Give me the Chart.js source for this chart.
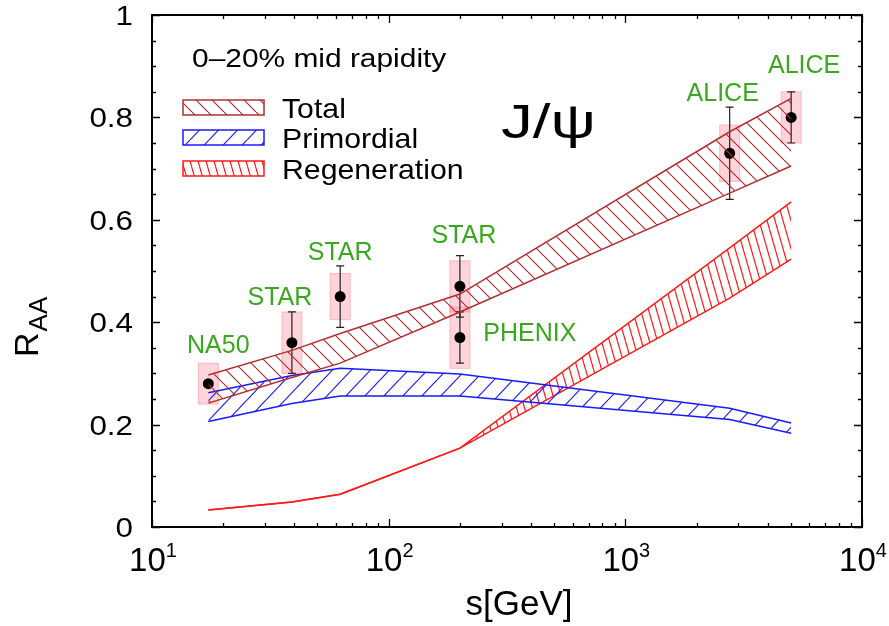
<!DOCTYPE html>
<html>
<head>
<meta charset="utf-8">
<script src="https://cdn.jsdelivr.net/npm/chart.js@4.4.0/dist/chart.umd.min.js"></script>
<style>
  html, body { margin:0; padding:0; background:#fff; }
  #wrap { width:889px; height:626px; }
</style>
</head>
<body>
<div id="wrap"><canvas id="raa" width="889" height="626"></canvas></div>
<script>
// ---- data ----
var totalE  = [17.3, 39, 62.4, 200, 2760, 5020];
var totalHi = [0.297, 0.345, 0.378, 0.455, 0.772, 0.837];
var totalLo = [0.242, 0.292, 0.320, 0.420, 0.652, 0.705];

var primE  = [17.3, 39, 62.4, 200, 2760, 5020];
var primHi = [0.262, 0.296, 0.310, 0.299, 0.232, 0.203];
var primLo = [0.206, 0.241, 0.256, 0.256, 0.210, 0.183];

var regenE  = [17.3, 39, 62.4, 200, 2760, 5020];
var regenHi = [0.033, 0.049, 0.064, 0.154, 0.545, 0.635];
var regenLo = [0.033, 0.049, 0.064, 0.154, 0.447, 0.523];

var expName = ['NA50', 'STAR', 'STAR', 'STAR', 'PHENIX', 'ALICE', 'ALICE'];
var expE    = [17.3, 39, 62.4, 200, 200, 2760, 5020];
var expR    = [0.28, 0.36, 0.45, 0.47, 0.37, 0.73, 0.80];
var errLo   = [null, 0.30, 0.39, 0.41, 0.32, 0.64, 0.75];
var errHi   = [null, 0.42, 0.51, 0.53, 0.42, 0.82, 0.85];
var sysLo   = [0.24, 0.30, 0.405, 0.42, 0.31, 0.675, 0.75];
var sysHi   = [0.32, 0.42, 0.495, 0.52, 0.43, 0.785, 0.85];

var yTicks = [0, 0.2, 0.4, 0.6, 0.8, 1];
var yTickLabels = ['0', '0.2', '0.4', '0.6', '0.8', '1'];
var xTicks = [10, 100, 1000, 10000];
var xTickExp = ['1', '2', '3', '4'];

// label placement (pixels from the point: centre x, baseline y)
var labelOffset = [[10,-31], [-12,-38], [0,-37], [4,-43], [70,3], [-7,-52], [13,-44]];

var BROWN = '#b03030', BLUE = '#1a1aff', RED = '#ff1a1a', GREEN = '#3aa81e';
var FONT = '"Liberation Sans", Arial, Helvetica, sans-serif';

function hatch(color, w, h, back){
  var c = document.createElement('canvas'); c.width = w; c.height = h;
  var g = c.getContext('2d'); g.strokeStyle = color; g.lineWidth = 1.2;
  for (var k = -1; k <= 1; k++){
    g.beginPath();
    if (back){ g.moveTo(k*w, 0); g.lineTo(k*w + w, h); }
    else { g.moveTo(k*w, h); g.lineTo(k*w + w, 0); }
    g.stroke();
  }
  return g.createPattern(c, 'repeat');
}
var patTotal = hatch(BROWN, 16, 16, true);
var patPrim  = hatch(BLUE, 19, 20, false);
var patRegen = hatch(RED, 8, 28, true);

function pts(xs, ys){ return xs.map(function(x, i){ return {x:x, y:ys[i]}; }); }
function band(label, col, pat, xs, hi, lo){
  return [
    {label:label, data:pts(xs, hi), borderColor:col, borderWidth:1.5, pointRadius:0, fill:false, tension:0},
    {label:label+' lo', data:pts(xs, lo), borderColor:col, borderWidth:1.5, pointRadius:0, fill:'-1', backgroundColor:pat, tension:0}
  ];
}

function put(ctx, s, x, y, size, color, align, sx){
  ctx.save();
  ctx.font = size + 'px ' + FONT; ctx.fillStyle = color;
  ctx.textAlign = align || 'left'; ctx.textBaseline = 'alphabetic';
  ctx.translate(x, y); ctx.scale(sx || 1, 1); ctx.fillText(s, 0, 0);
  ctx.restore();
}

var decor = {
  id: 'decor',
  beforeDatasetDraw: function(chart, args){
    if (args.index !== 6) return;
    var ctx = chart.ctx, xs = chart.scales.x, ys = chart.scales.y;
    ctx.save();
    expE.forEach(function(e, i){
      var x = xs.getPixelForValue(e), t = ys.getPixelForValue(sysHi[i]), b = ys.getPixelForValue(sysLo[i]);
      ctx.fillStyle = 'rgba(255,120,140,0.32)'; ctx.fillRect(x-10, t, 20, b-t);
      ctx.strokeStyle = 'rgba(255,120,140,0.45)'; ctx.lineWidth = 1; ctx.strokeRect(x-10, t, 20, b-t);
    });
    ctx.strokeStyle = '#222'; ctx.lineWidth = 1.2;
    expE.forEach(function(e, i){
      if (errLo[i] == null) return;
      var x = xs.getPixelForValue(e), t = ys.getPixelForValue(errHi[i]), b = ys.getPixelForValue(errLo[i]);
      ctx.beginPath();
      ctx.moveTo(x, t); ctx.lineTo(x, b);
      ctx.moveTo(x-4, t); ctx.lineTo(x+4, t);
      ctx.moveTo(x-4, b); ctx.lineTo(x+4, b);
      ctx.stroke();
    });
    ctx.restore();
  },
  afterDraw: function(chart){
    var ctx = chart.ctx, a = chart.chartArea, xs = chart.scales.x, ys = chart.scales.y;
    ctx.save();
    // ticks (inward, all four sides)
    ctx.strokeStyle = '#000'; ctx.lineWidth = 1.3;
    ctx.beginPath();
    for (var v = 0; v <= 1.0001; v += 0.05){
      var y = Math.round(ys.getPixelForValue(v)) + 0.5;
      var major = Math.abs(v*5 - Math.round(v*5)) < 1e-6;
      var L = major ? 8 : 4;
      ctx.moveTo(a.left, y); ctx.lineTo(a.left + L, y);
      ctx.moveTo(a.right, y); ctx.lineTo(a.right - L, y);
    }
    for (var d = 10; d < 10000; d *= 10){
      for (var m = 1; m <= 10; m++){
        var x = Math.round(xs.getPixelForValue(d*m)) + 0.5;
        var Lx = (m === 1 || m === 10) ? 8 : 4;
        ctx.moveTo(x, a.bottom); ctx.lineTo(x, a.bottom - Lx);
        ctx.moveTo(x, a.top); ctx.lineTo(x, a.top + Lx);
      }
    }
    ctx.stroke();
    // frame
    ctx.lineWidth = 2;
    ctx.strokeRect(a.left, a.top, a.right - a.left, a.bottom - a.top);

    // tick labels
    yTicks.forEach(function(v, i){
      put(ctx, yTickLabels[i], 133, ys.getPixelForValue(v) + 10, 28, '#000', 'right', 1.12);
    });
    xTicks.forEach(function(v, i){
      var x = xs.getPixelForValue(v);
      ctx.font = '33px ' + FONT; var w1 = ctx.measureText('10').width;
      ctx.font = '20px ' + FONT; var w2 = ctx.measureText(xTickExp[i]).width;
      var s = x - (w1 + w2)/2 + 1;
      put(ctx, '10', s, 571, 33, '#000', 'left');
      put(ctx, xTickExp[i], s + w1, 557, 20, '#000', 'left');
    });

    // axis titles
    put(ctx, 's[GeV]', 519, 615, 35, '#000', 'center');
    ctx.save();
    ctx.translate(38, 357); ctx.rotate(-Math.PI/2);
    ctx.fillStyle = '#000'; ctx.textBaseline = 'alphabetic';
    ctx.font = '34px ' + FONT; ctx.fillText('R', 0, 0);
    var wr = ctx.measureText('R').width;
    ctx.font = '26px ' + FONT; ctx.fillText('AA', wr + 1, 9);
    ctx.restore();

    // legend
    put(ctx, '0\u201320% mid rapidity', 192, 67, 26, '#000', 'left', 1.15);
    var leg = [['Total', BROWN, patTotal, 100, 117.5], ['Primordial', BLUE, patPrim, 130, 148], ['Regeneration', RED, patRegen, 161, 178.5]];
    leg.forEach(function(l){
      ctx.fillStyle = l[2]; ctx.fillRect(183, l[3], 81, 15);
      ctx.strokeStyle = l[1]; ctx.lineWidth = 1.5; ctx.strokeRect(183, l[3], 81, 15);
      put(ctx, l[0], 282, l[4], 28, '#000', 'left', 1.08);
    });
    put(ctx, 'J/\u03c8', 501, 138, 49, '#000', 'left', 1.3);

    // experiment labels
    expName.forEach(function(n, i){
      var x = xs.getPixelForValue(expE[i]) + labelOffset[i][0];
      var y = ys.getPixelForValue(expR[i]) + labelOffset[i][1];
      put(ctx, n, x, y, 25, GREEN, 'center');
    });
    ctx.restore();
  }
};

var datasets = []
  .concat(band('Total', BROWN, patTotal, totalE, totalHi, totalLo))
  .concat(band('Primordial', BLUE, patPrim, primE, primHi, primLo))
  .concat(band('Regeneration', RED, patRegen, regenE, regenHi, regenLo));
datasets.push({label:'data', data:pts(expE, expR), showLine:false, pointRadius:5.5,
  pointBackgroundColor:'#000', pointBorderColor:'#000', pointBorderWidth:0, fill:false});

new Chart(document.getElementById('raa').getContext('2d'), {
  type: 'line',
  data: { datasets: datasets },
  options: {
    responsive: false, animation: false, devicePixelRatio: 1,
    layout: { padding: { left:152, right:27, top:15, bottom:99 } },
    plugins: { legend: { display:false }, tooltip: { enabled:false } },
    scales: {
      x: { type:'logarithmic', min:10, max:10000, display:false },
      y: { type:'linear', min:0, max:1, display:false }
    }
  },
  plugins: [decor]
});
</script>
</body>
</html>
